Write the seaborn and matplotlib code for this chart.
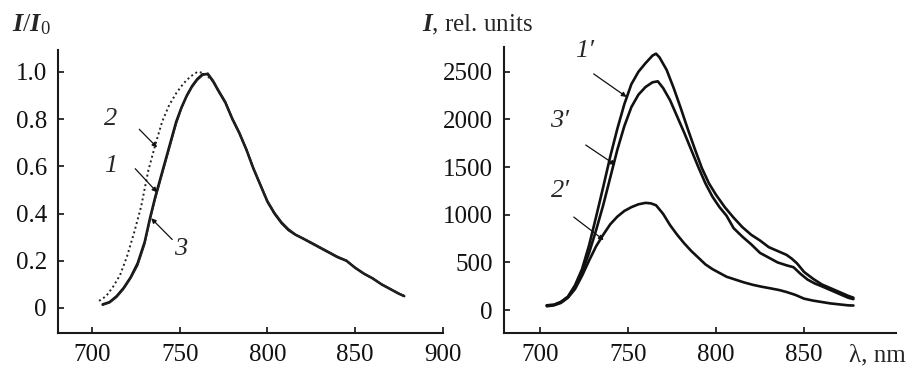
import numpy as np
import pandas as pd
import matplotlib
matplotlib.use("Agg")
import matplotlib.pyplot as plt
import seaborn as sns

# ---------------- data ----------------
# left panel: normalized spectra
x1 = [706, 710, 714, 718, 722, 726, 730, 733, 736, 739, 742, 745, 748, 751, 754, 757, 760, 763, 766,
      769, 772, 776, 780, 784, 788, 792, 796, 800, 804, 808, 812, 816, 820, 825, 830, 835, 840, 845,
      850, 855, 860, 865, 870, 875, 878]
y1 = [0.015, 0.025, 0.05, 0.085, 0.13, 0.19, 0.28, 0.38, 0.47, 0.55, 0.63, 0.71, 0.79, 0.85, 0.90,
      0.94, 0.97, 0.99, 0.99, 0.96, 0.92, 0.87, 0.80, 0.74, 0.67, 0.59, 0.52, 0.45, 0.40, 0.36, 0.33,
      0.31, 0.295, 0.275, 0.255, 0.235, 0.215, 0.20, 0.17, 0.145, 0.125, 0.10, 0.08, 0.06, 0.05]
y3 = [0.012, 0.022, 0.045, 0.08, 0.125, 0.18, 0.27, 0.37, 0.46, 0.54, 0.62, 0.70, 0.78, 0.845, 0.895,
      0.935, 0.965, 0.985, 0.995, 0.965, 0.925, 0.875, 0.805, 0.745, 0.675, 0.595, 0.525, 0.455, 0.405,
      0.365, 0.335, 0.312, 0.297, 0.278, 0.258, 0.238, 0.218, 0.202, 0.172, 0.147, 0.127, 0.102, 0.082,
      0.062, 0.052]
x2 = [704, 708, 712, 716, 720, 724, 728, 732, 736, 740, 744, 748, 752, 756, 760, 764, 769, 772, 776,
      780, 784, 788, 792, 796, 800, 804, 808, 812, 816, 820, 825, 830, 835, 840, 845, 850, 855, 860,
      865, 870, 875, 878]
y2 = [0.03, 0.05, 0.09, 0.14, 0.22, 0.32, 0.43, 0.58, 0.69, 0.79, 0.86, 0.91, 0.95, 0.98, 1.0, 0.995,
      0.96, 0.92, 0.87, 0.80, 0.74, 0.67, 0.59, 0.52, 0.45, 0.40, 0.36, 0.33, 0.31, 0.295, 0.275, 0.255,
      0.235, 0.215, 0.20, 0.17, 0.145, 0.125, 0.10, 0.08, 0.06, 0.05]

# right panel: intensities, rel. units
x1p = [704, 708, 712, 716, 720, 724, 728, 732, 736, 740, 744, 748, 752, 756, 760, 764, 766, 768, 772,
       776, 780, 784, 788, 792, 796, 800, 805, 810, 815, 820, 825, 830, 835, 840, 843, 846, 850, 855,
       860, 865, 870, 875, 878]
y1p = [50, 55, 85, 140, 260, 430, 680, 980, 1290, 1610, 1900, 2160, 2370, 2500, 2590, 2670, 2690,
       2650, 2520, 2330, 2120, 1900, 1690, 1490, 1330, 1210, 1080, 970, 870, 790, 730, 660, 620, 580,
       540, 490, 400, 330, 270, 230, 190, 150, 130]
x3p = [704, 708, 712, 716, 720, 724, 728, 732, 736, 740, 744, 748, 752, 756, 760, 764, 767, 770, 774,
       778, 782, 786, 790, 794, 798, 802, 806, 810, 815, 820, 825, 830, 835, 840, 844, 848, 852, 856,
       860, 865, 870, 875, 878]
y3p = [50, 55, 85, 140, 250, 400, 600, 840, 1100, 1390, 1680, 1930, 2130, 2260, 2340, 2390, 2400,
       2330, 2200, 2030, 1860, 1680, 1500, 1330, 1190, 1080, 990, 860, 770, 690, 600, 550, 500, 470,
       450, 380, 320, 280, 250, 210, 170, 130, 115]
x2p = [704, 708, 712, 716, 720, 724, 728, 732, 736, 740, 744, 748, 752, 756, 760, 763, 766, 770, 774,
       778, 782, 786, 790, 794, 798, 802, 806, 811, 816, 821, 826, 831, 836, 840, 845, 850, 855, 860,
       865, 870, 875, 878]
y2p = [40, 50, 75, 130, 220, 360, 520, 670, 790, 900, 980, 1040, 1080, 1110, 1125, 1120, 1100, 1010,
       890, 790, 700, 620, 550, 480, 430, 390, 350, 320, 290, 265, 245, 228, 210, 190, 160, 120, 100,
       85, 70, 60, 50, 48]

left_yticks = [0, 0.2, 0.4, 0.6, 0.8, 1.0]
left_yticklabels = ["0", "0.2", "0.4", "0.6", "0.8", "1.0"]
left_xticks = [700, 750, 800, 850, 900]
right_yticks = [0, 500, 1000, 1500, 2000, 2500]
right_xticks = [700, 750, 800, 850]

# ---------------- style ----------------
sns.set_style("ticks")
plt.rcParams["font.family"] = ["Liberation Serif", "DejaVu Serif"]
plt.rcParams["mathtext.fontset"] = "custom"
plt.rcParams["mathtext.rm"] = "Liberation Serif"
plt.rcParams["mathtext.it"] = "Liberation Serif:italic:bold"
plt.rcParams["mathtext.bf"] = "Liberation Serif:bold"

fig = plt.figure(figsize=(9.14, 3.69), dpi=100)
axL = fig.add_axes([0.0635, 0.0976, 0.421, 0.767])
axR = fig.add_axes([0.551, 0.0976, 0.429, 0.775])

TICK_FS = 18

def style_axes(ax):
    for s in ["top", "right"]:
        ax.spines[s].set_visible(False)
    for s in ["left", "bottom"]:
        ax.spines[s].set_linewidth(1.5)
        ax.spines[s].set_color("#1a1a1a")
    ax.tick_params(direction="in", length=4, width=1.2, labelsize=TICK_FS, pad=8, colors="#111111")
    ax.set_xlabel("")
    ax.set_ylabel("")
    ax.grid(False)

# left panel
dL1 = pd.DataFrame({"x": x1, "y": y1})
dL3 = pd.DataFrame({"x": x1, "y": y3})
dL2 = pd.DataFrame({"x": x2, "y": y2})
sns.lineplot(data=dL1, x="x", y="y", ax=axL, color="#111111", lw=1.8, sort=False)
sns.lineplot(data=dL3, x="x", y="y", ax=axL, color="#222222", lw=1.2, sort=False)
sns.lineplot(data=dL2, x="x", y="y", ax=axL, color="#222222", lw=1.4, ls=(0, (1, 1.5)), sort=False)
axL.set_xlim(680.6, 900)
axL.set_ylim(-0.106, 1.093)
axL.set_xticks(left_xticks)
axL.set_yticks(left_yticks)
axL.set_yticklabels(left_yticklabels)
style_axes(axL)

# right panel
for xs, ys in [(x1p, y1p), (x3p, y3p), (x2p, y2p)]:
    sns.lineplot(data=pd.DataFrame({"x": xs, "y": ys}), x="x", y="y", ax=axR,
                 color="#111111", lw=1.9, sort=False)
axR.set_xlim(679.5, 902)
axR.set_ylim(-240, 2760)
axR.set_xticks(right_xticks)
axR.set_yticks(right_yticks)
style_axes(axR)

# axis titles
fig.text(12 / 914, 1 - 31 / 369, "$I/I_0$", fontsize=19, ha="left", va="baseline")
fig.text(422 / 914, 1 - 31 / 369, "$I$, rel. units", fontsize=18, ha="left", va="baseline")
fig.text(849 / 914, 1 - 361 / 369, "λ, nm", fontsize=18, ha="left", va="baseline")

# curve labels with arrows
aprops = dict(arrowstyle="-|>", lw=0.9, color="#111111", mutation_scale=7, shrinkA=0, shrinkB=0)

def label(ax, txt, tpos, tail, head):
    ax.text(tpos[0], tpos[1], txt, fontsize=19, style="italic", ha="center", va="center")
    ax.annotate("", xy=head, xytext=tail, arrowprops=aprops)

label(axL, "2", (710.5, 0.80), (726.9, 0.757), (737.1, 0.68))
label(axL, "1", (710.5, 0.60), (724.6, 0.59), (737.1, 0.49))
label(axL, "3", (750.3, 0.25), (745.7, 0.29), (733.7, 0.38))

label(axR, "1′", (725.5, 2720), (730.6, 2478), (749.3, 2236))
label(axR, "3′", (711.5, 1985), (726.1, 1732), (743.0, 1522))
label(axR, "2′", (711.5, 1250), (719.3, 976), (736.3, 735))

fig.savefig("out.png", dpi=100)
